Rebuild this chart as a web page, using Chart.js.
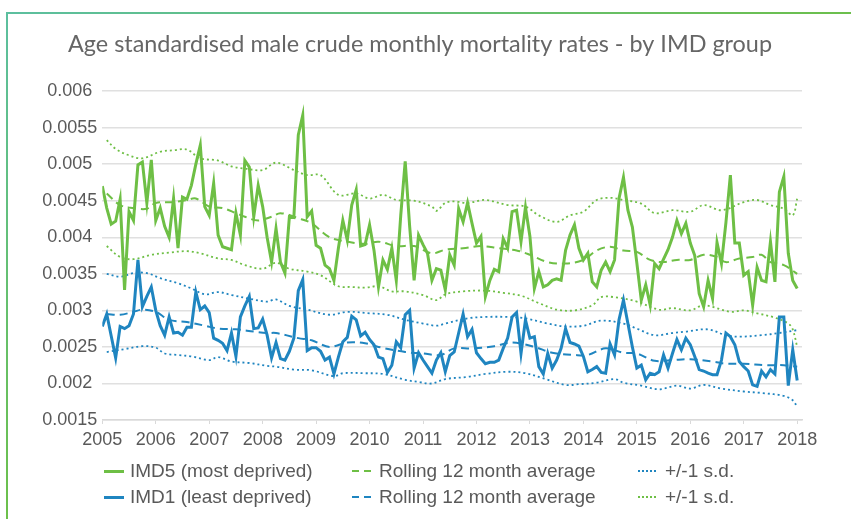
<!DOCTYPE html>
<html>
<head>
<meta charset="utf-8">
<script src="https://cdn.jsdelivr.net/npm/chart.js@4.4.1/dist/chart.umd.min.js"></script>
<style>
  body { margin: 0; background: #fff; width: 851px; height: 519px; position: relative; overflow: hidden; font-family: 'Liberation Sans', Arial, sans-serif; }
  #frameTop { position: absolute; left: 6px; top: 12px; width: 845px; height: 2px; background: linear-gradient(to right, #5cbf9f, #6cbf4c); }
  #frameLeft { position: absolute; left: 6px; top: 12px; width: 2px; height: 507px; background: linear-gradient(to bottom, #5cbf9f, #6cc04a); }
  #wrap { position: absolute; left: 0; top: 0; width: 841px; height: 519px; }
  .leg { position: absolute; color: #595959; font-size: 19px; line-height: 22px; white-space: nowrap; }
  .sample { position: absolute; }
</style>
</head>
<body>
<div id="frameTop"></div>
<div id="frameLeft"></div>
<div id="wrap"><canvas id="chart1" width="841" height="519"></canvas></div>
<div id="legend"></div>
<script>
var years = [2005, 2006, 2007, 2008, 2009, 2010, 2011, 2012, 2013, 2014, 2015, 2016, 2017, 2018];

// monthly rates, Jan 2005 onwards
var imd5 = [
  0.00470, 0.00440, 0.00418, 0.00422, 0.00452, 0.00328, 0.00435, 0.00423, 0.00499, 0.00503, 0.00447, 0.00506,
  0.00423, 0.00440, 0.00415, 0.00400, 0.00453, 0.00385, 0.00455, 0.00452, 0.00471, 0.00500, 0.00526, 0.00442,
  0.00430, 0.00474, 0.00403, 0.00387, 0.00385, 0.00383, 0.00433, 0.00403, 0.00505, 0.00496, 0.00428, 0.00471,
  0.00442, 0.00400, 0.00366, 0.00412, 0.00366, 0.00351, 0.00428, 0.00427, 0.00540, 0.00567, 0.00428, 0.00436,
  0.00389, 0.00385, 0.00362, 0.00357, 0.00341, 0.00385, 0.00423, 0.00396, 0.00444, 0.00465, 0.00388, 0.00390,
  0.00417, 0.00382, 0.00332, 0.00369, 0.00356, 0.00385, 0.00341, 0.00430, 0.00504, 0.00415, 0.00341, 0.00403,
  0.00390, 0.00378, 0.00341, 0.00357, 0.00355, 0.00328, 0.00376, 0.00362, 0.00439, 0.00421, 0.00447, 0.00419,
  0.00392, 0.00401, 0.00319, 0.00341, 0.00356, 0.00353, 0.00398, 0.00385, 0.00435, 0.00437, 0.00394, 0.00441,
  0.00401, 0.00330, 0.00353, 0.00332, 0.00335, 0.00341, 0.00343, 0.00341, 0.00382, 0.00403, 0.00417, 0.00385,
  0.00369, 0.00378, 0.00339, 0.00332, 0.00355, 0.00366, 0.00353, 0.00369, 0.00453, 0.00482, 0.00437, 0.00414,
  0.00365, 0.00314, 0.00335, 0.00307, 0.00364, 0.00357, 0.00370, 0.00383, 0.00400, 0.00423, 0.00405, 0.00419,
  0.00392, 0.00375, 0.00323, 0.00305, 0.00341, 0.00316, 0.00393, 0.00364, 0.00420, 0.00485, 0.00392, 0.00392,
  0.00348, 0.00353, 0.00307, 0.00359, 0.00341, 0.00339, 0.00394, 0.00339, 0.00462, 0.00483, 0.00378, 0.00341,
  0.00330
];
var imd1 = [
  0.00278, 0.00295, 0.00265, 0.00235, 0.00278, 0.00275, 0.00279, 0.00295, 0.00369, 0.00305, 0.00319, 0.00332,
  0.00300, 0.00279, 0.00266, 0.00291, 0.00269, 0.00270, 0.00266, 0.00277, 0.00277, 0.00325, 0.00301, 0.00306,
  0.00297, 0.00262, 0.00259, 0.00255, 0.00245, 0.00269, 0.00237, 0.00291, 0.00306, 0.00319, 0.00275, 0.00276,
  0.00288, 0.00266, 0.00235, 0.00256, 0.00234, 0.00232, 0.00244, 0.00262, 0.00327, 0.00342, 0.00245, 0.00249,
  0.00249, 0.00244, 0.00232, 0.00236, 0.00213, 0.00236, 0.00257, 0.00263, 0.00292, 0.00287, 0.00265, 0.00270,
  0.00260, 0.00253, 0.00236, 0.00234, 0.00215, 0.00225, 0.00257, 0.00249, 0.00294, 0.00300, 0.00221, 0.00242,
  0.00232, 0.00223, 0.00214, 0.00232, 0.00242, 0.00216, 0.00238, 0.00243, 0.00269, 0.00295, 0.00264, 0.00274,
  0.00242, 0.00234, 0.00227, 0.00229, 0.00229, 0.00232, 0.00248, 0.00262, 0.00291, 0.00297, 0.00241, 0.00287,
  0.00262, 0.00264, 0.00223, 0.00213, 0.00241, 0.00221, 0.00232, 0.00248, 0.00275, 0.00256, 0.00254, 0.00251,
  0.00237, 0.00216, 0.00219, 0.00223, 0.00215, 0.00214, 0.00254, 0.00239, 0.00287, 0.00314, 0.00282, 0.00250,
  0.00221, 0.00225, 0.00205, 0.00214, 0.00212, 0.00216, 0.00239, 0.00221, 0.00241, 0.00260, 0.00246, 0.00262,
  0.00253, 0.00237, 0.00219, 0.00217, 0.00214, 0.00212, 0.00212, 0.00232, 0.00269, 0.00264, 0.00253, 0.00230,
  0.00223, 0.00217, 0.00198, 0.00196, 0.00217, 0.00209, 0.00219, 0.00213, 0.00291, 0.00291, 0.00197, 0.00246,
  0.00204
];

// rolling 12 month averages, read at the months listed (months after Jan 2005)
var avg5Months = [1, 4, 7, 10, 12, 16, 19, 21, 24, 27, 30, 32, 35, 38, 40, 44, 47, 51, 55, 59, 62, 66, 70, 74, 77, 81, 85, 89, 93, 96, 100, 104, 108, 111, 114, 117, 120, 123, 126, 129, 132, 135, 138, 140, 143, 146, 148, 150, 153, 156];
var avg5 = [0.00460, 0.00444, 0.00440, 0.00439, 0.00447, 0.00448, 0.00451, 0.00453, 0.00442, 0.00440, 0.00433, 0.00428, 0.00423, 0.00428, 0.00433, 0.00426, 0.00419, 0.00400, 0.00394, 0.00391, 0.00394, 0.00388, 0.00388, 0.00378, 0.00383, 0.00385, 0.00388, 0.00385, 0.00382, 0.00376, 0.00366, 0.00364, 0.00369, 0.00382, 0.00387, 0.00382, 0.00380, 0.00369, 0.00366, 0.00369, 0.00369, 0.00376, 0.00373, 0.00366, 0.00371, 0.00373, 0.00376, 0.00366, 0.00362, 0.00350];
var avg1Months = [1, 4, 7, 9, 12, 15, 19, 23, 26, 30, 34, 37, 39, 44, 47, 51, 55, 59, 62, 68, 72, 76, 79, 83, 88, 92, 97, 101, 106, 109, 113, 117, 120, 124, 128, 132, 137, 140, 144, 149, 153, 156];
var avg1 = [0.00295, 0.00294, 0.00298, 0.00301, 0.00298, 0.00287, 0.00284, 0.00279, 0.00275, 0.00274, 0.00271, 0.00269, 0.00269, 0.00262, 0.00259, 0.00250, 0.00256, 0.00255, 0.00250, 0.00243, 0.00241, 0.00239, 0.00248, 0.00248, 0.00251, 0.00256, 0.00250, 0.00242, 0.00239, 0.00239, 0.00248, 0.00242, 0.00241, 0.00231, 0.00232, 0.00233, 0.00230, 0.00227, 0.00227, 0.00225, 0.00225, 0.00223];

// +/-1 s.d. bands
var sdHigh5Months = [1, 3, 6, 9, 13, 16, 19, 22, 26, 29, 32, 36, 39, 43, 46, 49, 53, 57, 60, 63, 66, 70, 74, 75, 77, 79, 82, 86, 91, 95, 98, 102, 105, 108, 111, 114, 117, 121, 124, 128, 132, 135, 139, 144, 147, 150, 153, 155, 156];
var sdHigh5 = [0.00533, 0.00521, 0.00512, 0.00508, 0.00517, 0.00519, 0.00520, 0.00508, 0.00505, 0.00497, 0.00494, 0.00492, 0.00502, 0.00492, 0.00485, 0.00485, 0.00458, 0.00460, 0.00453, 0.00458, 0.00451, 0.00450, 0.00442, 0.00436, 0.00447, 0.00449, 0.00447, 0.00451, 0.00444, 0.00442, 0.00430, 0.00421, 0.00430, 0.00435, 0.00451, 0.00454, 0.00451, 0.00446, 0.00433, 0.00437, 0.00435, 0.00444, 0.00437, 0.00448, 0.00451, 0.00444, 0.00439, 0.00430, 0.00453];
var sdLow5Months = [1, 4, 7, 11, 15, 19, 22, 26, 29, 32, 36, 39, 42, 46, 49, 53, 56, 59, 62, 65, 68, 72, 75, 77, 81, 86, 90, 94, 98, 102, 106, 110, 112, 115, 120, 125, 128, 132, 135, 141, 144, 147, 151, 154, 155, 156];
var sdLow5 = [0.00388, 0.00373, 0.00370, 0.00376, 0.00379, 0.00381, 0.00378, 0.00371, 0.00369, 0.00362, 0.00357, 0.00365, 0.00357, 0.00353, 0.00348, 0.00333, 0.00332, 0.00331, 0.00333, 0.00326, 0.00326, 0.00321, 0.00314, 0.00322, 0.00326, 0.00327, 0.00324, 0.00320, 0.00310, 0.00301, 0.00300, 0.00307, 0.00318, 0.00318, 0.00312, 0.00301, 0.00303, 0.00300, 0.00307, 0.00298, 0.00300, 0.00296, 0.00290, 0.00282, 0.00274, 0.00250];
var sdHigh1Months = [1, 4, 7, 10, 13, 17, 20, 23, 26, 29, 33, 37, 39, 42, 46, 51, 55, 60, 64, 68, 72, 75, 77, 82, 86, 91, 95, 100, 104, 108, 112, 117, 120, 124, 128, 131, 136, 140, 143, 148, 152, 156];
var sdHigh1 = [0.00350, 0.00346, 0.00351, 0.00351, 0.00344, 0.00337, 0.00330, 0.00322, 0.00325, 0.00321, 0.00316, 0.00312, 0.00315, 0.00306, 0.00301, 0.00294, 0.00298, 0.00296, 0.00294, 0.00287, 0.00282, 0.00279, 0.00282, 0.00289, 0.00291, 0.00291, 0.00289, 0.00282, 0.00278, 0.00279, 0.00286, 0.00282, 0.00275, 0.00266, 0.00269, 0.00271, 0.00274, 0.00266, 0.00264, 0.00266, 0.00269, 0.00273];
var sdLow1Months = [1, 5, 9, 12, 14, 17, 20, 24, 26, 29, 33, 37, 39, 43, 47, 52, 54, 59, 63, 68, 71, 74, 77, 82, 86, 91, 95, 99, 104, 107, 111, 115, 117, 121, 125, 129, 132, 135, 139, 144, 148, 153, 155, 156];
var sdLow1 = [0.00243, 0.00247, 0.00251, 0.00249, 0.00241, 0.00239, 0.00237, 0.00232, 0.00236, 0.00230, 0.00228, 0.00224, 0.00223, 0.00219, 0.00218, 0.00210, 0.00214, 0.00214, 0.00213, 0.00205, 0.00202, 0.00200, 0.00206, 0.00209, 0.00213, 0.00216, 0.00214, 0.00207, 0.00198, 0.00199, 0.00201, 0.00206, 0.00201, 0.00197, 0.00192, 0.00197, 0.00193, 0.00198, 0.00193, 0.00189, 0.00187, 0.00183, 0.00177, 0.00168];

var green = '#6ebf45';
var blue = '#1f85c0';
var textGrey = '#595959';

function monthly(values) {
  return values.map(function (v, i) { return { x: 2005 + i / 12, y: v }; });
}
function picked(months, values) {
  return months.map(function (m, i) { return { x: 2005 + m / 12, y: values[i] }; });
}

Chart.defaults.font.family = "'Liberation Sans', Arial, sans-serif";
Chart.defaults.color = textGrey;

var ctx = document.getElementById('chart1').getContext('2d');
var mortalityChart = new Chart(ctx, {
  type: 'line',
  data: {
    datasets: [
      { label: 'IMD5 (most deprived)', data: monthly(imd5), borderColor: green, borderWidth: 3, pointRadius: 0, tension: 0 },
      { label: 'IMD1 (least deprived)', data: monthly(imd1), borderColor: blue, borderWidth: 3, pointRadius: 0, tension: 0 },
      { label: 'Rolling 12 month average', data: picked(avg5Months, avg5), borderColor: green, borderWidth: 2, borderDash: [8, 5], pointRadius: 0, tension: 0.35 },
      { label: 'Rolling 12 month average', data: picked(avg1Months, avg1), borderColor: blue, borderWidth: 2, borderDash: [8, 5], pointRadius: 0, tension: 0.35 },
      { label: '+/-1 s.d.', data: picked(sdHigh1Months, sdHigh1), borderColor: blue, borderWidth: 1.8, borderDash: [2, 3], pointRadius: 0, tension: 0.35 },
      { label: '+/-1 s.d.', data: picked(sdLow1Months, sdLow1), borderColor: blue, borderWidth: 1.8, borderDash: [2, 3], pointRadius: 0, tension: 0.35 },
      { label: '+/-1 s.d.', data: picked(sdHigh5Months, sdHigh5), borderColor: green, borderWidth: 1.8, borderDash: [2, 3], pointRadius: 0, tension: 0.35 },
      { label: '+/-1 s.d.', data: picked(sdLow5Months, sdLow5), borderColor: green, borderWidth: 1.8, borderDash: [2, 3], pointRadius: 0, tension: 0.35 }
    ]
  },
  options: {
    responsive: false,
    animation: false,
    // left padding keeps the title centred where Excel put it
    layout: { padding: { left: 38, right: 39, top: 0, bottom: 0 } },
    plugins: {
      legend: { display: false },
      tooltip: { enabled: false },
      title: {
        display: true,
        text: 'Age standardised male crude monthly mortality rates - by IMD group',
        color: '#666666',
        font: { family: 'Lato', size: 23.4, weight: 'normal' },
        padding: { top: 30, bottom: 33 }
      }
    },
    scales: {
      x: {
        type: 'linear',
        min: 2005,
        max: 2018.09,
        afterBuildTicks: function (scale) { scale.ticks = years.map(function (y) { return { value: y }; }); },
        afterFit: function (scale) { scale.height = 99; },
        ticks: { callback: function (v) { return String(v); }, font: { size: 18 }, padding: 5, maxRotation: 0, autoSkip: false },
        grid: { drawOnChartArea: false, drawTicks: true, tickLength: 4, color: '#d9d9d9' },
        border: { color: '#d9d9d9', width: 1.5 }
      },
      y: {
        min: 0.0015,
        max: 0.006,
        afterFit: function (scale) { scale.width = 64.3; },
        ticks: { stepSize: 0.0005, callback: function (v) { return String(+v.toFixed(4)); }, font: { size: 18 }, crossAlign: 'center', padding: 5 },
        grid: { color: '#e0e0e0', lineWidth: 1.5, drawTicks: false },
        border: { display: false }
      }
    }
  }
});

// legend laid out in Excel's 3 x 2 grid
var legendItems = [
  { text: 'IMD5 (most deprived)', color: green, kind: 'solid', col: 0, row: 0 },
  { text: 'Rolling 12 month average', color: green, kind: 'dash', col: 1, row: 0 },
  { text: '+/-1 s.d.', color: blue, kind: 'dot', col: 2, row: 0 },
  { text: 'IMD1 (least deprived)', color: blue, kind: 'solid', col: 0, row: 1 },
  { text: 'Rolling 12 month average', color: blue, kind: 'dash', col: 1, row: 1 },
  { text: '+/-1 s.d.', color: green, kind: 'dot', col: 2, row: 1 }
];
var colSample = [104, 352, 638];
var colText = [130, 379, 665];
var rowY = [471, 497];
var legend = document.getElementById('legend');
legendItems.forEach(function (item) {
  var s = document.createElement('div');
  s.className = 'sample';
  s.style.left = colSample[item.col] + 'px';
  s.style.width = (item.kind === 'solid' ? 20 : 19) + 'px';
  if (item.kind === 'solid') {
    s.style.top = (rowY[item.row] - 1.5) + 'px';
    s.style.height = '3px';
    s.style.background = item.color;
  } else if (item.kind === 'dash') {
    s.style.top = (rowY[item.row] - 1) + 'px';
    s.style.height = '2px';
    s.style.background = 'repeating-linear-gradient(to right, ' + item.color + ' 0 7px, transparent 7px 12px)';
  } else {
    s.style.top = (rowY[item.row] - 1) + 'px';
    s.style.height = '2px';
    s.style.background = 'repeating-linear-gradient(to right, ' + item.color + ' 0 2px, transparent 2px 4px)';
  }
  legend.appendChild(s);
  var t = document.createElement('div');
  t.className = 'leg';
  t.textContent = item.text;
  t.style.left = colText[item.col] + 'px';
  t.style.top = (rowY[item.row] - 11) + 'px';
  legend.appendChild(t);
});
</script>
</body>
</html>
